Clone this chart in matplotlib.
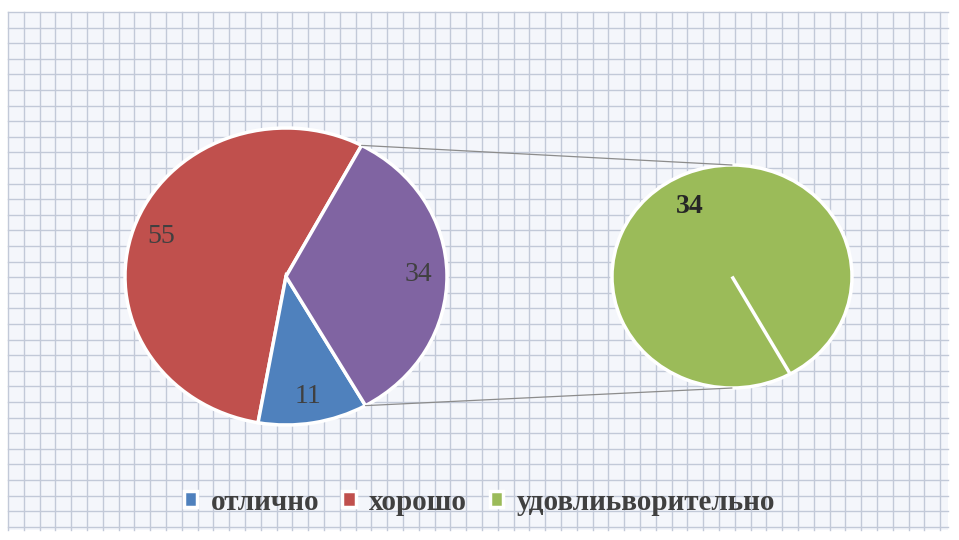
import numpy as np
import matplotlib.pyplot as plt
from matplotlib.patches import Rectangle, ConnectionPatch

# данные
categories = ['отлично', 'хорошо', 'удовлиьворительно']
values = [11, 55, 34]
colors = ['#4f81bd', '#c0504d', '#9bbb59']
other_color = '#8064a2'

W, H = 959, 540
fig = plt.figure(figsize=(W / 100, H / 100), dpi=100)

# фон в клетку
bg = fig.add_axes([0, 0, 1, 1])
bg.set_xlim(0, W)
bg.set_ylim(H, 0)
bg.axis('off')
bg.add_patch(Rectangle((8, 12), 940, 518, fc='#f4f6fb', ec='none'))
for x in np.arange(8, 949, 15.8):
    bg.plot([x, x], [12, 530], color='#c2c9d8', lw=1.0)
for y in np.arange(12, 531, 15.6):
    bg.plot([8, 948], [y, y], color='#c2c9d8', lw=1.0)


def box(x0, y0, x1, y1):
    return [x0 / W, 1 - y1 / H, (x1 - x0) / W, (y1 - y0) / H]


txt = dict(family='Liberation Serif', fontsize=20, color='#404040')

# основная диаграмма
axL = fig.add_axes(box(125, 128, 447, 425))
main_vals = [values[1], values[0], values[2]]
wL, _ = axL.pie(main_vals, colors=[colors[1], colors[0], other_color],
                startangle=62, counterclock=True,
                wedgeprops=dict(edgecolor='white', linewidth=2.5))
axL.set_aspect('auto')
axL.set_xlim(-1, 1)
axL.set_ylim(-1, 1)
for w, v in zip(wL, main_vals):
    a = np.deg2rad((w.theta1 + w.theta2) / 2)
    axL.text(0.82 * np.cos(a), 0.82 * np.sin(a), str(v),
             ha='center', va='center', **txt)

# вторичная диаграмма
axR = fig.add_axes(box(612, 165, 852, 388))
wR, _ = axR.pie([values[2], 0], colors=[colors[2], colors[2]],
                startangle=-61, counterclock=True,
                wedgeprops=dict(edgecolor='white', linewidth=2.5))
axR.set_aspect('auto')
axR.set_xlim(-1, 1)
axR.set_ylim(-1, 1)
a = np.deg2rad((wR[0].theta1 + wR[0].theta2) / 2)
axR.text(0.72 * np.cos(a), 0.72 * np.sin(a), str(values[2]),
         ha='center', va='center', family='Liberation Serif',
         fontsize=20, fontweight='bold', color='#262626')

# соединительные линии
for ang, yb in [(wL[2].theta2, 1), (wL[2].theta1, -1)]:
    r = np.deg2rad(ang)
    con = ConnectionPatch(xyA=(np.cos(r), np.sin(r)), coordsA=axL.transData,
                          xyB=(0, yb), coordsB=axR.transData,
                          color='#8c8c8c', lw=0.9)
    fig.add_artist(con)

# легенда
leg = fig.legend([wL[1], wL[0], wR[0]], categories, loc='center',
                 bbox_to_anchor=(0.5, 1 - 502 / H), ncol=3, frameon=False,
                 prop=dict(family='Liberation Serif', size=21, weight='bold'),
                 labelcolor='#404040', handlelength=0.45, handleheight=0.45,
                 handletextpad=0.45, columnspacing=0.8)

fig.savefig('out.png', dpi=100)
